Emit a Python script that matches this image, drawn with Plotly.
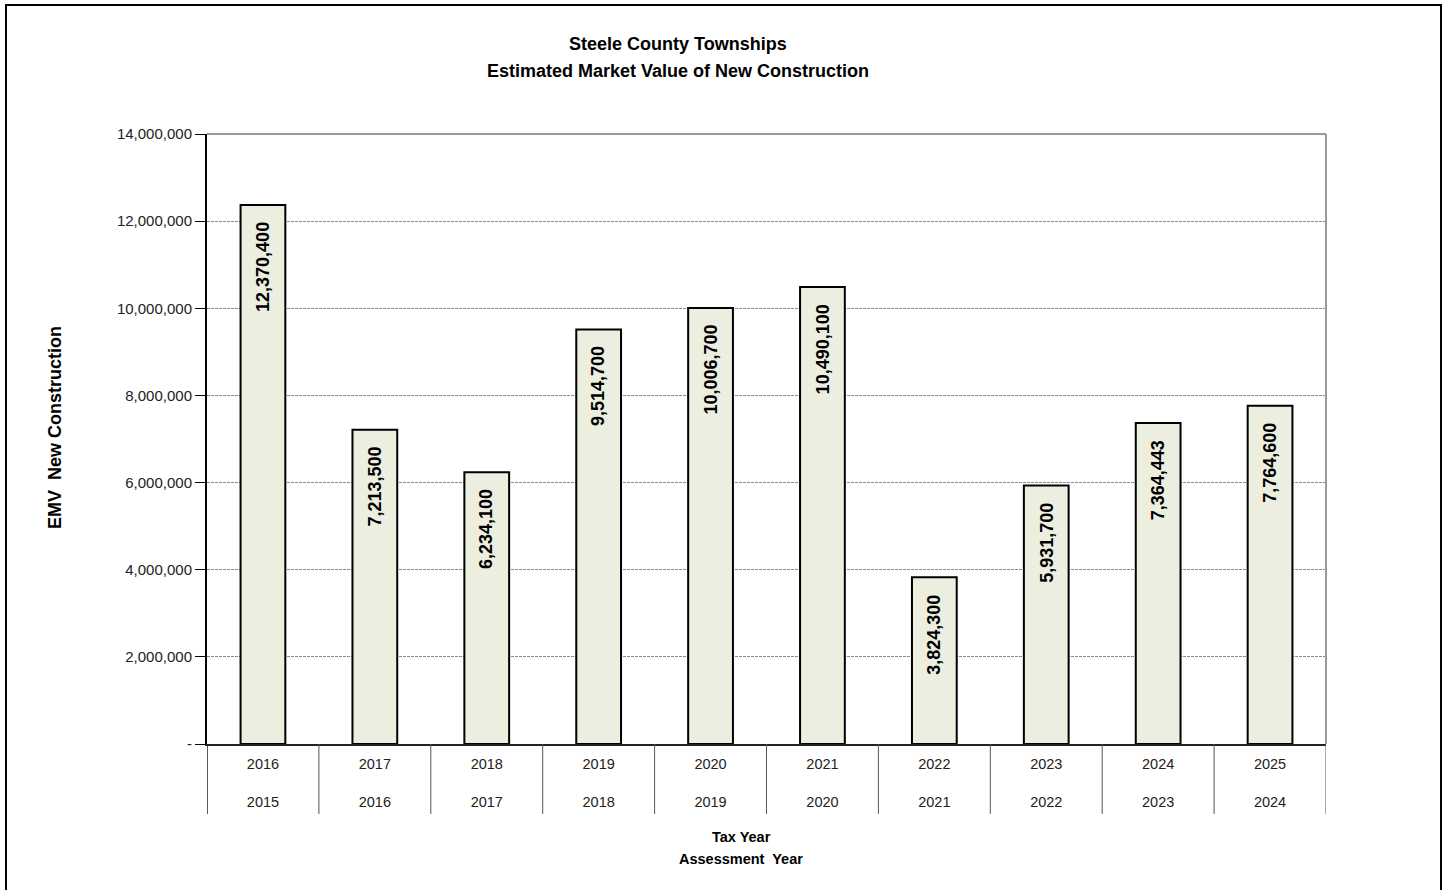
import plotly.graph_objects as go

tax_years = ["2016", "2017", "2018", "2019", "2020", "2021", "2022", "2023", "2024", "2025"]
assessment_years = ["2015", "2016", "2017", "2018", "2019", "2020", "2021", "2022", "2023", "2024"]
emv_values = [12370400, 7213500, 6234100, 9514700, 10006700, 10490100, 3824300, 5931700, 7364443, 7764600]
y_tick_vals = [0, 2000000, 4000000, 6000000, 8000000, 10000000, 12000000, 14000000]
y_tick_text = ["-", "2,000,000", "4,000,000", "6,000,000", "8,000,000", "10,000,000", "12,000,000", "14,000,000"]

FONT = "Liberation Sans Narrow, Arial Narrow, Liberation Sans, Arial, sans-serif"

fig = go.Figure()
fig.add_trace(go.Bar(
    x=tax_years,
    y=emv_values,
    width=0.4,
    marker=dict(color="#ECEFE0", line=dict(color="#000000", width=2)),
    hoverinfo="x+y",
))

L, R, T, B = 207, 121, 134, 146
W, H = 1447, 890
pw, ph = W - L - R, H - T - B

def py(pixel_y):
    return (H - B - pixel_y) / ph

def px(pixel_x):
    return (pixel_x - L) / pw

fig.update_layout(
    width=W, height=H,
    margin=dict(l=L, r=R, t=T, b=B, autoexpand=False),
    paper_bgcolor="white", plot_bgcolor="white",
    showlegend=False,
    font=dict(family=FONT, size=15, color="#222222"),
)
fig.update_yaxes(
    range=[0, 14000000],
    tickvals=y_tick_vals, ticktext=y_tick_text,
    showgrid=True, gridcolor="#8a8a8a", griddash="3px,1px", gridwidth=1,
    showline=True, linecolor="#000000", linewidth=2,
    ticks="outside", ticklen=10, tickcolor="#000000", tickwidth=1,
    tickfont=dict(family=FONT, size=15, color="#222222"),
    zeroline=False,
)
fig.update_xaxes(
    type="category",
    range=[-0.5, len(tax_years) - 0.5],
    tickvals=tax_years,
    ticktext=[f"{t}<br><br>{a}" for t, a in zip(tax_years, assessment_years)],
    showline=True, linecolor="#222222", linewidth=2,
    ticks="", ticklabelstandoff=6,
    tickfont=dict(family=FONT, size=14.5, color="#222222"),
)

# category dividers below the x axis
for i in range(len(tax_years) + 1):
    fig.add_shape(type="line", xref="x", yref="paper", x0=i - 0.5, x1=i - 0.5,
                  y0=0, y1=py(814), line=dict(color="#222222" if i == 0 else "#555555", width=1.5 if i == 0 else 1))

# data labels (rotated, inside top of bar); x uses the category index on the axis
for i, v in enumerate(emv_values):
    fig.add_annotation(x=i, y=v, xref="x", yref="y", text=f"<b>{v:,}</b>",
                       textangle=-90, showarrow=False, xanchor="center", yanchor="top",
                       yshift=-15, font=dict(family="Liberation Sans, Arial, sans-serif", size=18, color="#000000"))

# plot-area top and right border
fig.add_shape(type="line", xref="paper", yref="paper", x0=0, x1=1, y0=1, y1=1,
              line=dict(color="#9a9a9a", width=2))
fig.add_shape(type="line", xref="paper", yref="paper", x0=1, x1=1, y0=0, y1=1,
              line=dict(color="#9a9a9a", width=2))
# outer chart border
fig.add_shape(type="rect", xref="paper", yref="paper",
              x0=px(6), x1=px(1441), y0=py(905), y1=py(5),
              line=dict(color="#000000", width=2), fillcolor="rgba(0,0,0,0)", layer="above")

# titles
fig.add_annotation(text="<b>Steele County Townships</b>", xref="paper", yref="paper",
                   x=px(678), y=py(44), xanchor="center", yanchor="middle", showarrow=False,
                   font=dict(family=FONT, size=18, color="#000000"))
fig.add_annotation(text="<b>Estimated Market Value of New Construction</b>", xref="paper", yref="paper",
                   x=px(678), y=py(71), xanchor="center", yanchor="middle", showarrow=False,
                   font=dict(family=FONT, size=18, color="#000000"))
fig.add_annotation(text="<b>EMV  New Construction</b>",
                   xref="paper", yref="paper", x=px(55), y=py(428),
                   xanchor="center", yanchor="middle", showarrow=False, textangle=-90,
                   font=dict(family="Liberation Sans, Arial, sans-serif", size=18, color="#000000"))
fig.add_annotation(text="<b>Tax Year</b>", xref="paper", yref="paper",
                   x=px(741), y=py(837), xanchor="center", yanchor="middle", showarrow=False,
                   font=dict(family=FONT, size=14.5, color="#000000"))
fig.add_annotation(text="<b>Assessment  Year</b>", xref="paper", yref="paper",
                   x=px(741), y=py(859), xanchor="center", yanchor="middle", showarrow=False,
                   font=dict(family=FONT, size=14.5, color="#000000"))

fig.write_html("out.html")
